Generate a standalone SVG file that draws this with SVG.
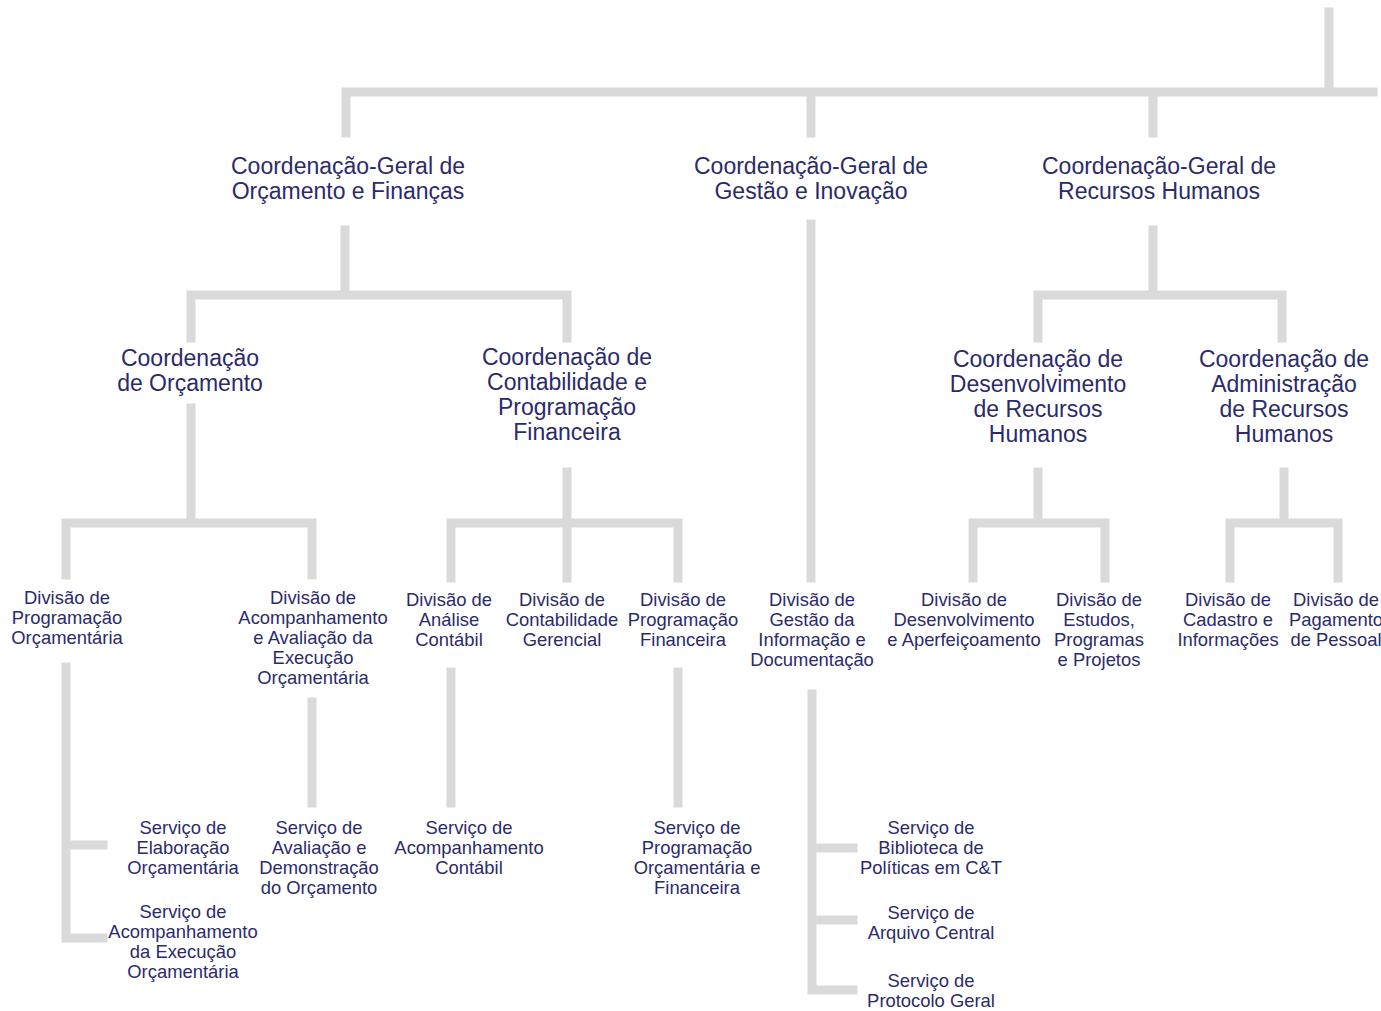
<svg xmlns="http://www.w3.org/2000/svg" width="1381" height="1011" viewBox="0 0 1381 1011">
<style>
.c{fill:none;stroke:#dadada;stroke-width:9;stroke-linecap:square;stroke-linejoin:miter}
text{font-family:"Liberation Sans",Arial,sans-serif;fill:#2b2b6b;text-anchor:middle}
.l1{font-size:23px}
.l2{font-size:23px}
.l3{font-size:18.4px}
.l4{font-size:18.4px}
</style>
<rect width="1381" height="1011" fill="#ffffff"/>
<g id="connectors">
<path class="c" d="M1329 12V92M346 133V92H1373M811 92V133M1153 92V133"/>
<path class="c" d="M345 230V295M191 338V295H567V338"/>
<path class="c" d="M811 224V578"/>
<path class="c" d="M1153 230V295M1038 338V295H1282V338"/>
<path class="c" d="M191 408V523M66 575V523H312V575"/>
<path class="c" d="M567 472V578M451 578V523H678V578"/>
<path class="c" d="M1038 472V523M973 578V523H1105V578"/>
<path class="c" d="M1284 472V523M1230 578V523H1338V578"/>
<path class="c" d="M66 667V938H103M66 845H103"/>
<path class="c" d="M312 702V803"/>
<path class="c" d="M451 672V803"/>
<path class="c" d="M678 672V803"/>
<path class="c" d="M812 694V990H853M812 848H853M812 920H853"/>
</g>
<g id="cgof"><text class="l1" x="348" y="174">Coordenação-Geral de</text><text class="l1" x="348" y="199">Orçamento e Finanças</text></g>
<g id="cggi"><text class="l1" x="811" y="174">Coordenação-Geral de</text><text class="l1" x="811" y="199">Gestão e Inovação</text></g>
<g id="cgrh"><text class="l1" x="1159" y="174">Coordenação-Geral de</text><text class="l1" x="1159" y="199">Recursos Humanos</text></g>
<g id="co"><text class="l2" x="190" y="366">Coordenação</text><text class="l2" x="190" y="391">de Orçamento</text></g>
<g id="ccpf"><text class="l2" x="567" y="365">Coordenação de</text><text class="l2" x="567" y="390">Contabilidade e</text><text class="l2" x="567" y="415">Programação</text><text class="l2" x="567" y="440">Financeira</text></g>
<g id="cdrh"><text class="l2" x="1038" y="367">Coordenação de</text><text class="l2" x="1038" y="392">Desenvolvimento</text><text class="l2" x="1038" y="417">de Recursos</text><text class="l2" x="1038" y="442">Humanos</text></g>
<g id="carh"><text class="l2" x="1284" y="367">Coordenação de</text><text class="l2" x="1284" y="392">Administração</text><text class="l2" x="1284" y="417">de Recursos</text><text class="l2" x="1284" y="442">Humanos</text></g>
<g id="dpo"><text class="l3" x="67" y="604">Divisão de</text><text class="l3" x="67" y="624">Programação</text><text class="l3" x="67" y="644">Orçamentária</text></g>
<g id="daaeo"><text class="l3" x="313" y="604">Divisão de</text><text class="l3" x="313" y="624">Acompanhamento</text><text class="l3" x="313" y="644">e Avaliação da</text><text class="l3" x="313" y="664">Execução</text><text class="l3" x="313" y="684">Orçamentária</text></g>
<g id="dac"><text class="l3" x="449" y="606">Divisão de</text><text class="l3" x="449" y="626">Análise</text><text class="l3" x="449" y="646">Contábil</text></g>
<g id="dcg"><text class="l3" x="562" y="606">Divisão de</text><text class="l3" x="562" y="626">Contabilidade</text><text class="l3" x="562" y="646">Gerencial</text></g>
<g id="dpf"><text class="l3" x="683" y="606">Divisão de</text><text class="l3" x="683" y="626">Programação</text><text class="l3" x="683" y="646">Financeira</text></g>
<g id="dgid"><text class="l3" x="812" y="606">Divisão de</text><text class="l3" x="812" y="626">Gestão da</text><text class="l3" x="812" y="646">Informação e</text><text class="l3" x="812" y="666">Documentação</text></g>
<g id="dda"><text class="l3" x="964" y="606">Divisão de</text><text class="l3" x="964" y="626">Desenvolvimento</text><text class="l3" x="964" y="646">e Aperfeiçoamento</text></g>
<g id="depp"><text class="l3" x="1099" y="606">Divisão de</text><text class="l3" x="1099" y="626">Estudos,</text><text class="l3" x="1099" y="646">Programas</text><text class="l3" x="1099" y="666">e Projetos</text></g>
<g id="dci"><text class="l3" x="1228" y="606">Divisão de</text><text class="l3" x="1228" y="626">Cadastro e</text><text class="l3" x="1228" y="646">Informações</text></g>
<g id="dpp"><text class="l3" x="1336" y="606">Divisão de</text><text class="l3" x="1336" y="626">Pagamento</text><text class="l3" x="1336" y="646">de Pessoal</text></g>
<g id="seo"><text class="l4" x="183" y="834">Serviço de</text><text class="l4" x="183" y="854">Elaboração</text><text class="l4" x="183" y="874">Orçamentária</text></g>
<g id="saeo"><text class="l4" x="183" y="918">Serviço de</text><text class="l4" x="183" y="938">Acompanhamento</text><text class="l4" x="183" y="958">da Execução</text><text class="l4" x="183" y="978">Orçamentária</text></g>
<g id="sado"><text class="l4" x="319" y="834">Serviço de</text><text class="l4" x="319" y="854">Avaliação e</text><text class="l4" x="319" y="874">Demonstração</text><text class="l4" x="319" y="894">do Orçamento</text></g>
<g id="sac"><text class="l4" x="469" y="834">Serviço de</text><text class="l4" x="469" y="854">Acompanhamento</text><text class="l4" x="469" y="874">Contábil</text></g>
<g id="spof"><text class="l4" x="697" y="834">Serviço de</text><text class="l4" x="697" y="854">Programação</text><text class="l4" x="697" y="874">Orçamentária e</text><text class="l4" x="697" y="894">Financeira</text></g>
<g id="sbp"><text class="l4" x="931" y="834">Serviço de</text><text class="l4" x="931" y="854">Biblioteca de</text><text class="l4" x="931" y="874">Políticas em C&amp;T</text></g>
<g id="sarq"><text class="l4" x="931" y="919">Serviço de</text><text class="l4" x="931" y="939">Arquivo Central</text></g>
<g id="sprot"><text class="l4" x="931" y="987">Serviço de</text><text class="l4" x="931" y="1007">Protocolo Geral</text></g>
</svg>
